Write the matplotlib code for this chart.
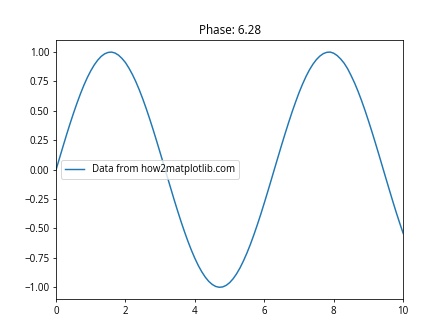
import numpy as np
import matplotlib
matplotlib.use("Agg")
import matplotlib.pyplot as plt

plt.rcParams['font.family'] = ['Open Sans', 'DejaVu Sans']

x_start = 0.0
x_step = 0.1
y_values = [
    -0.003, 0.097, 0.196, 0.293, 0.387, 0.477, 0.562, 0.642, 0.716, 0.782,
    0.840, 0.890, 0.931, 0.963, 0.985, 0.997, 1.000, 0.992, 0.974, 0.946,
    0.911, 0.864, 0.810, 0.748, 0.678, 0.601, 0.518, 0.430, 0.338, 0.242,
    0.144, 0.045, -0.055, -0.154, -0.253, -0.348, -0.440, -0.527, -0.609, -0.685,
    -0.754, -0.816, -0.869, -0.914, -0.950, -0.976, -0.993, -1.000, -0.997, -0.984,
    -0.961, -0.928, -0.886, -0.835, -0.775, -0.708, -0.634, -0.553, -0.467, -0.377,
    -0.282, -0.185, -0.086, 0.014, 0.113, 0.212, 0.308, 0.401, 0.491, 0.575,
    0.655, 0.727, 0.792, 0.849, 0.897, 0.936, 0.966, 0.987, 0.998, 1.000,
    0.990, 0.970, 0.941, 0.905, 0.858, 0.800, 0.737, 0.666, 0.588, 0.504,
    0.415, 0.322, 0.226, 0.128, 0.028, -0.072, -0.171, -0.269, -0.364, -0.455,
    -0.542,
]
x_values = [round(x_start + i * x_step, 1) for i in range(len(y_values))]

fig, ax = plt.subplots(figsize=(6.4, 4.8), dpi=70)
ax.plot(x_values, y_values, label='Data from how2matplotlib.com')
ax.set_xlim(0, 10)
ax.set_ylim(-1.1, 1.1)
ax.set_title('Phase: 6.28')
ax.legend(loc='center left')
fig.savefig('out.png', dpi=70)
